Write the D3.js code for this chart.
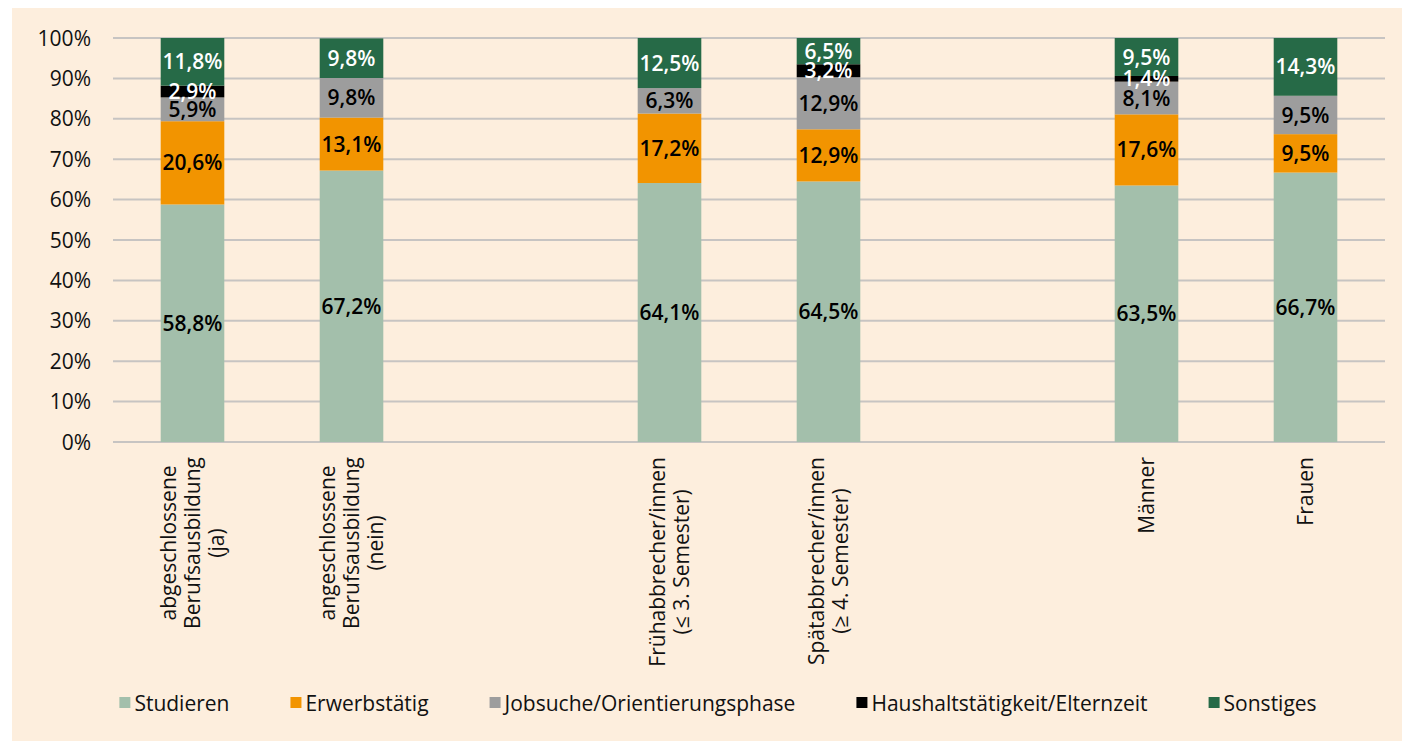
<!DOCTYPE html>
<html>
<head>
<meta charset="utf-8">
<script src="https://cdn.jsdelivr.net/npm/d3@7"></script>
<style>
  html, body { margin: 0; padding: 0; background: #fff; }
  svg { display: block; font-family: "Open Sans", sans-serif; }
</style>
</head>
<body>
<div id="chart"></div>
<script>
// Categories (null = gap between the three groups)
const categories = [
  ["abgeschlossene", "Berufsausbildung", "(ja)"],
  ["angeschlossene", "Berufsausbildung", "(nein)"],
  null,
  ["Frühabbrecher/innen", "(≤ 3. Semester)"],
  ["Spätabbrecher/innen", "(≥ 4. Semester)"],
  null,
  ["Männer"],
  ["Frauen"],
];

const seriesNames = ["Studieren", "Erwerbstätig", "Jobsuche/Orientierungsphase", "Haushaltstätigkeit/Elternzeit", "Sonstiges"];
const seriesColors = ["#a3bfab", "#f29400", "#9d9d9d", "#000000", "#266a47"];
const labelColors = ["#000", "#000", "#000", "#fff", "#fff"];

// values per series, one entry per (non-gap) category
const studieren = [58.8, 67.2, 64.1, 64.5, 63.5, 66.7];
const erwerbstaetig = [20.6, 13.1, 17.2, 12.9, 17.6, 9.5];
const jobsuche = [5.9, 9.8, 6.3, 12.9, 8.1, 9.5];
const haushalt = [2.9, 0, 0, 3.2, 1.4, 0];
const sonstiges = [11.8, 9.8, 12.5, 6.5, 9.5, 14.3];

const yTicks = [0, 10, 20, 30, 40, 50, 60, 70, 80, 90, 100];

const W = 1402, H = 741;
const plot = { left: 113, right: 1385, top: 38, bottom: 442 };

const svg = d3.select("#chart").append("svg").attr("width", W).attr("height", H);
svg.append("rect").attr("x", 12).attr("y", 8).attr("width", W - 12).attr("height", H - 8).attr("fill", "#fdeedd");

const slotKeys = categories.map((c, i) => "s" + i);
const x = d3.scaleBand().domain(slotKeys).range([plot.left, plot.right]).paddingInner(0.6).paddingOuter(0.3);
const y = d3.scaleLinear().domain([0, 100]).range([plot.bottom, plot.top]).clamp(true);

// rows for stacking
const allSeries = [studieren, erwerbstaetig, jobsuche, haushalt, sonstiges];
const rows = [];
let k = 0;
categories.forEach((c, i) => {
  if (!c) return;
  const r = { key: slotKeys[i] };
  seriesNames.forEach((s, j) => (r[s] = allSeries[j][k]));
  rows.push(r);
  k++;
});
const stacked = d3.stack().keys(seriesNames)(rows);

// gridlines
svg.append("g").selectAll("line").data(yTicks).join("line")
  .attr("x1", plot.left).attr("x2", plot.right)
  .attr("y1", d => y(d)).attr("y2", d => y(d))
  .attr("stroke", "#c7c4c2").attr("stroke-width", 2);

// y tick labels
svg.append("g").selectAll("text").data(yTicks).join("text")
  .attr("x", 91).attr("y", d => y(d))
  .attr("dy", "0.36em")
  .attr("text-anchor", "end")
  .attr("font-size", 21)
  .attr("fill", "#111")
  .text(d => d + "%");

// bars
const layers = svg.append("g").selectAll("g").data(stacked).join("g")
  .attr("fill", (d, i) => seriesColors[i]);
layers.selectAll("rect").data(d => d).join("rect")
  .attr("x", d => x(d.data.key))
  .attr("width", x.bandwidth())
  .attr("y", d => y(d[1]))
  .attr("height", d => y(d[0]) - y(d[1]));

// value labels
const fmt = v => v.toFixed(1).replace(".", ",") + "%";
stacked.forEach((layer, i) => {
  svg.append("g").selectAll("text").data(layer.filter(d => d[1] - d[0] > 0)).join("text")
    .attr("x", d => x(d.data.key) + x.bandwidth() / 2)
    .attr("y", d => (y(d[0]) + y(d[1])) / 2)
    .attr("dy", "0.36em")
    .attr("text-anchor", "middle")
    .attr("font-size", 21)
    .attr("font-weight", 600)
    .attr("fill", labelColors[i])
    .text(d => fmt(d[1] - d[0]));
});

// category labels, rotated, lines centred on each other
const lineH = 24;
categories.forEach((lines, i) => {
  if (!lines) return;
  const cx = x(slotKeys[i]) + x.bandwidth() / 2;
  const g = svg.append("g").attr("transform", `translate(${cx},457) rotate(-90)`);
  const t = g.append("text").attr("font-size", 21).attr("fill", "#111").attr("text-anchor", "middle");
  const off = -((lines.length - 1) * lineH) / 2;
  const spans = lines.map((l, j) =>
    t.append("tspan").attr("y", off + j * lineH).attr("dy", "0.36em").text(l));
  const maxLen = d3.max(spans, s => s.node().getComputedTextLength());
  spans.forEach(s => s.attr("x", -maxLen / 2));
});

// legend
const legendGap = 61;
const legend = svg.append("g");
const items = legend.selectAll("g").data(seriesNames).join("g");
items.append("rect").attr("width", 11).attr("height", 11).attr("y", -6)
  .attr("fill", (d, i) => seriesColors[i]);
items.append("text").attr("x", 15).attr("dy", "0.36em")
  .attr("font-size", 21).attr("fill", "#111").text(d => d);
let lx = 0;
items.each(function () {
  d3.select(this).attr("transform", `translate(${lx},703)`);
  lx += this.getBBox().width + legendGap;
});
const totalW = lx - legendGap;
legend.attr("transform", `translate(${718 - totalW / 2},0)`);
</script>
</body>
</html>
